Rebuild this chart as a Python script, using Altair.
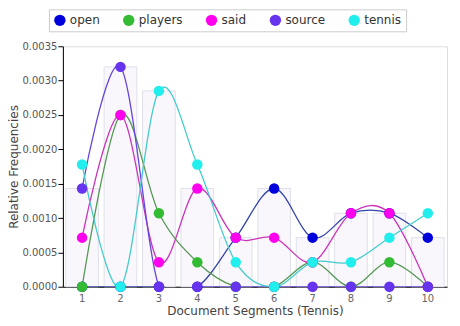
import altair as alt
import pandas as pd

segments = [1, 2, 3, 4, 5, 6, 7, 8, 9, 10]
series_names = ["open", "players", "said", "source", "tennis"]
open_vals = [0, 0, 0, 0, 0.000714, 0.00143, 0.000714, 0.00107, 0.00107, 0.000714]
players_vals = [0, 0.0025, 0.00107, 0.000357, 0, 0, 0.000357, 0, 0.000357, 0]
said_vals = [0.000714, 0.0025, 0.000357, 0.00143, 0.000714, 0.000714, 0.000357, 0.00107, 0.00107, 0]
source_vals = [0.00143, 0.0032, 0, 0, 0, 0, 0, 0, 0, 0]
tennis_vals = [0.00178, 0, 0.00285, 0.00178, 0.000357, 0, 0.000357, 0.000357, 0.000714, 0.00107]
bar_vals = [0.00143, 0.0032, 0.00285, 0.00143, 0.000714, 0.00143, 0.000714, 0.00107, 0.00107, 0.000714]
y_ticks = [0, 0.0005, 0.001, 0.0015, 0.002, 0.0025, 0.003, 0.0035]

point_colors = ["#0000dd", "#33bb33", "#ff00ee", "#6633ee", "#22eeee"]
line_colors = ["#3344aa", "#559955", "#cc33bb", "#6644dd", "#44cccc"]

rows = []
for name, vals in zip(series_names, [open_vals, players_vals, said_vals, source_vals, tennis_vals]):
    for s, v in zip(segments, vals):
        rows.append({"segment": s, "term": name, "freq": v})
df = pd.DataFrame(rows)
bars_df = pd.DataFrame({"segment": segments, "freq": bar_vals})

x_enc = alt.X("segment:O", title="Document Segments (Tennis)",
              scale=alt.Scale(paddingInner=0.15, paddingOuter=0.075),
              axis=alt.Axis(labelAngle=0, labelColor="#666", labelFontSize=10,
                            titleFontSize=12, titleFontWeight="normal", titleColor="#444",
                            domainColor="#000", tickColor="#555", titlePadding=2))
y_scale = alt.Scale(domain=[0, 0.0035], nice=False)
y_axis = alt.Axis(format=".4f", values=y_ticks, tickCount=8,
                  labelColor="#555", labelFontSize=10, titleFontSize=12, labelOverlap=False,
                  titleFontWeight="normal", titleColor="#444", domainColor="#000",
                  tickColor="#000", grid=False, titlePadding=1, labelPadding=1)
y_enc = alt.Y("freq:Q", scale=y_scale, axis=y_axis, title="Relative Frequencies")

bars = alt.Chart(bars_df).mark_bar(fill="#f9f7fc", stroke="#e0e0ea", strokeWidth=1).encode(
    x=x_enc,
    y=y_enc,
)

lines = alt.Chart(df).mark_line(interpolate="cardinal", strokeWidth=1.3, clip=True).encode(
    x=x_enc,
    y=y_enc,
    stroke=alt.Stroke("term:N", scale=alt.Scale(domain=series_names, range=line_colors), legend=None),
    detail="term:N",
)

color_pt = alt.Color("term:N", scale=alt.Scale(domain=series_names, range=point_colors),
                     legend=alt.Legend(title=None, orient="none", legendX=-14, legendY=-37,
                                       direction="horizontal", symbolType="circle",
                                       symbolSize=130, labelFontSize=12, labelColor="#333",
                                       strokeColor="#cccccc", padding=5, columnPadding=23,
                                       symbolStrokeWidth=0, labelOffset=4))
points = alt.Chart(df).mark_circle(size=110, opacity=1).encode(
    x=x_enc,
    y=y_enc,
    color=color_pt,
)

chart = alt.layer(bars, lines, points).resolve_scale(color="independent", stroke="independent").properties(
    width=385, height=241, padding={"left": 0, "top": 0, "right": 5, "bottom": 5}
).configure_view(stroke=None).configure(font="DejaVu Sans")

chart.save("out.html", embed_options={"renderer": "svg", "actions": False})
